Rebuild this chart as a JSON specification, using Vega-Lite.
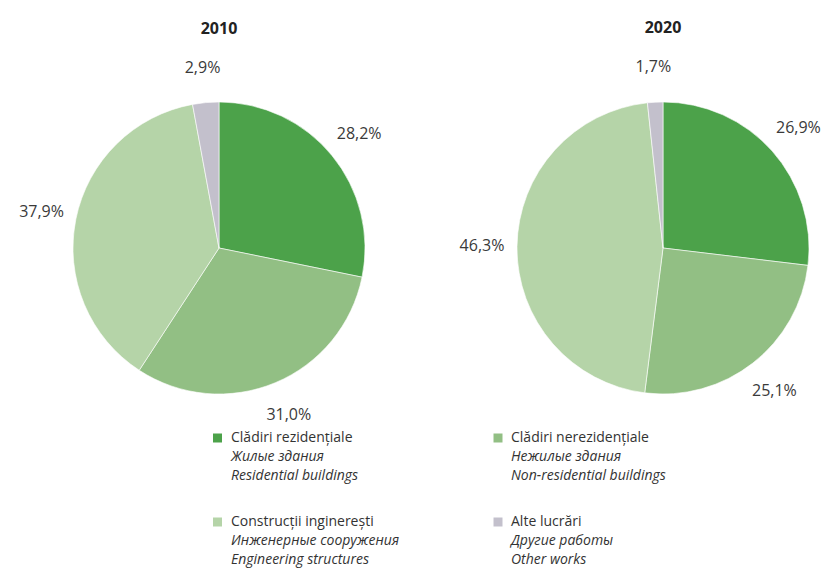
{
  "$schema": "https://vega.github.io/schema/vega-lite/v6.json",
  "padding": {"top": 20, "left": 0, "right": 0, "bottom": 0},
  "bounds": "flush",
  "background": "#ffffff",
  "config": {
    "view": {"stroke": null},
    "font": "Open Sans",
    "locale": {"number": {"decimal": ",", "thousands": ".", "grouping": [3], "currency": ["", ""]}},
    "title": {"fontSize": 16, "fontWeight": "bold", "color": "#222222", "font": "Open Sans"}
  },
  "datasets": {
    "pie": [
      {"year": "2010", "cat": "Clădiri rezidențiale", "ru": "Жилые здания", "en": "Residential buildings", "share": 0.282, "ord": 1},
      {"year": "2010", "cat": "Clădiri nerezidențiale", "ru": "Нежилые здания", "en": "Non-residential buildings", "share": 0.310, "ord": 2},
      {"year": "2010", "cat": "Construcții inginerești", "ru": "Инженерные сооружения", "en": "Engineering structures", "share": 0.379, "ord": 3},
      {"year": "2010", "cat": "Alte lucrări", "ru": "Другие работы", "en": "Other works", "share": 0.029, "ord": 4},
      {"year": "2020", "cat": "Clădiri rezidențiale", "ru": "Жилые здания", "en": "Residential buildings", "share": 0.269, "ord": 1},
      {"year": "2020", "cat": "Clădiri nerezidențiale", "ru": "Нежилые здания", "en": "Non-residential buildings", "share": 0.251, "ord": 2},
      {"year": "2020", "cat": "Construcții inginerești", "ru": "Инженерные сооружения", "en": "Engineering structures", "share": 0.463, "ord": 3},
      {"year": "2020", "cat": "Alte lucrări", "ru": "Другие работы", "en": "Other works", "share": 0.017, "ord": 4}
    ]
  },
  "columns": 2,
  "spacing": {"column": 61, "row": 19},
  "concat": [
    {
      "title": {"text": "2010", "offset": 23},
      "width": 438,
      "height": 296,
      "data": {"name": "pie"},
      "transform": [{"filter": "datum.year == '2010'"}],
      "encoding": {
        "theta": {"field": "share", "type": "quantitative", "stack": true},
        "order": {"field": "ord", "type": "quantitative"}
      },
      "layer": [
        {"mark": {"type": "arc", "outerRadius": 146, "stroke": "#ffffff", "strokeWidth": 0.6},
         "encoding": {"color": {
           "field": "cat", "type": "nominal", "legend": null,
           "scale": {
             "domain": ["Clădiri rezidențiale", "Clădiri nerezidențiale", "Construcții inginerești", "Alte lucrări"],
             "range": ["#4ca24a", "#92bf84", "#b5d4a8", "#c3c0cc"]
           }}}},
        {"mark": {"type": "text", "radius": 181, "fontSize": 16, "color": "#3a3a3a"},
         "encoding": {"text": {"field": "share", "type": "quantitative", "format": ".1%"}}}
      ]
    },
    {
      "title": {"text": "2020", "offset": 23},
      "width": 328,
      "height": 296,
      "data": {"name": "pie"},
      "transform": [{"filter": "datum.year == '2020'"}],
      "encoding": {
        "theta": {"field": "share", "type": "quantitative", "stack": true},
        "order": {"field": "ord", "type": "quantitative"}
      },
      "layer": [
        {"mark": {"type": "arc", "outerRadius": 146, "stroke": "#ffffff", "strokeWidth": 0.6},
         "encoding": {"color": {
           "field": "cat", "type": "nominal", "legend": null,
           "scale": {
             "domain": ["Clădiri rezidențiale", "Clădiri nerezidențiale", "Construcții inginerești", "Alte lucrări"],
             "range": ["#4ca24a", "#92bf84", "#b5d4a8", "#c3c0cc"]
           }}}},
        {"mark": {"type": "text", "radius": 181, "fontSize": 16, "color": "#3a3a3a"},
         "encoding": {"text": {"field": "share", "type": "quantitative", "format": ".1%"}}}
      ]
    },
    {
      "width": 438,
      "height": 168,
      "data": {"name": "pie"},
      "transform": [{"filter": "datum.year == '2010' && (datum.ord == 1 || datum.ord == 3)"}],
      "encoding": {
        "y": {"field": "cat", "type": "nominal", "axis": null, "sort": ["Clădiri rezidențiale", "Construcții inginerești"],
              "scale": {"paddingInner": 0, "paddingOuter": 0}}
      },
      "layer": [
        {"mark": {"type": "point", "shape": "square", "filled": true, "opacity": 1, "size": 81, "xOffset": -1.5, "yOffset": -19},
         "encoding": {"color": {
           "field": "cat", "type": "nominal", "legend": null,
           "scale": {
             "domain": ["Clădiri rezidențiale", "Clădiri nerezidențiale", "Construcții inginerești", "Alte lucrări"],
             "range": ["#4ca24a", "#92bf84", "#b5d4a8", "#c3c0cc"]
           }}}},
        {"mark": {"type": "text", "align": "left", "baseline": "middle", "dx": 12, "dy": -19, "fontSize": 14, "color": "#333333"},
         "encoding": {"text": {"field": "cat"}}},
        {"mark": {"type": "text", "align": "left", "baseline": "middle", "dx": 12, "dy": 0, "fontSize": 14, "fontStyle": "italic", "color": "#333333"},
         "encoding": {"text": {"field": "ru"}}},
        {"mark": {"type": "text", "align": "left", "baseline": "middle", "dx": 12, "dy": 19, "fontSize": 14, "fontStyle": "italic", "color": "#333333"},
         "encoding": {"text": {"field": "en"}}}
      ]
    },
    {
      "width": 328,
      "height": 168,
      "data": {"name": "pie"},
      "transform": [{"filter": "datum.year == '2010' && (datum.ord == 2 || datum.ord == 4)"}],
      "encoding": {
        "y": {"field": "cat", "type": "nominal", "axis": null, "sort": ["Clădiri nerezidențiale", "Alte lucrări"],
              "scale": {"paddingInner": 0, "paddingOuter": 0}}
      },
      "layer": [
        {"mark": {"type": "point", "shape": "square", "filled": true, "opacity": 1, "size": 81, "xOffset": -165, "yOffset": -19},
         "encoding": {"color": {
           "field": "cat", "type": "nominal", "legend": null,
           "scale": {
             "domain": ["Clădiri rezidențiale", "Clădiri nerezidențiale", "Construcții inginerești", "Alte lucrări"],
             "range": ["#4ca24a", "#92bf84", "#b5d4a8", "#c3c0cc"]
           }}}},
        {"mark": {"type": "text", "align": "left", "baseline": "middle", "dx": -152, "dy": -19, "fontSize": 14, "color": "#333333"},
         "encoding": {"text": {"field": "cat"}}},
        {"mark": {"type": "text", "align": "left", "baseline": "middle", "dx": -152, "dy": 0, "fontSize": 14, "fontStyle": "italic", "color": "#333333"},
         "encoding": {"text": {"field": "ru"}}},
        {"mark": {"type": "text", "align": "left", "baseline": "middle", "dx": -152, "dy": 19, "fontSize": 14, "fontStyle": "italic", "color": "#333333"},
         "encoding": {"text": {"field": "en"}}}
      ]
    }
  ]
}
